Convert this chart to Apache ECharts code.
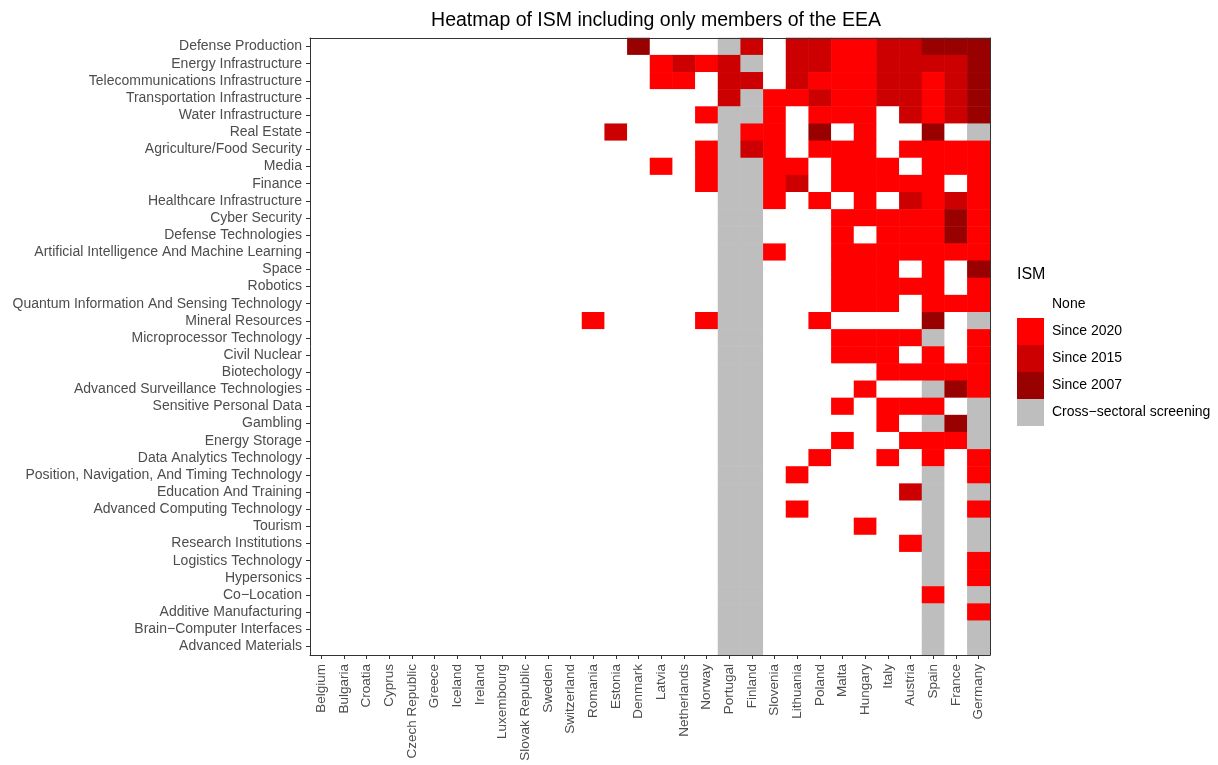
<!DOCTYPE html>
<html>
<head>
<meta charset="utf-8">
<title>Heatmap of ISM</title>
<script src="https://cdn.jsdelivr.net/npm/echarts@6/dist/echarts.min.js"></script>
<style>
  html, body { margin: 0; padding: 0; background: #fff; }
  #chart { width: 1218px; height: 765px; }
</style>
</head>
<body>
<div id="chart"></div>
<script>
// countries along x
const countries = ['Belgium', 'Bulgaria', 'Croatia', 'Cyprus', 'Czech Republic', 'Greece', 'Iceland',
  'Ireland', 'Luxembourg', 'Slovak Republic', 'Sweden', 'Switzerland', 'Romania', 'Estonia', 'Denmark',
  'Latvia', 'Netherlands', 'Norway', 'Portugal', 'Finland', 'Slovenia', 'Lithuania', 'Poland', 'Malta',
  'Hungary', 'Italy', 'Austria', 'Spain', 'France', 'Germany']

// sectors, top to bottom
const sectors = ['Defense Production', 'Energy Infrastructure', 'Telecommunications Infrastructure',
  'Transportation Infrastructure', 'Water Infrastructure', 'Real Estate', 'Agriculture/Food Security',
  'Media', 'Finance', 'Healthcare Infrastructure', 'Cyber Security', 'Defense Technologies',
  'Artificial Intelligence And Machine Learning', 'Space', 'Robotics',
  'Quantum Information And Sensing Technology', 'Mineral Resources', 'Microprocessor Technology',
  'Civil Nuclear', 'Biotechology', 'Advanced Surveillance Technologies', 'Sensitive Personal Data',
  'Gambling', 'Energy Storage', 'Data Analytics Technology',
  'Position, Navigation, And Timing Technology', 'Education And Training',
  'Advanced Computing Technology', 'Tourism', 'Research Institutions', 'Logistics Technology',
  'Hypersonics', 'Co\u2212Location', 'Additive Manufacturing', 'Brain\u2212Computer Interfaces',
  'Advanced Materials']

// 0 none, 1 since 2020, 2 since 2015, 3 since 2007, 4 cross-sectoral
const levelLabels = ['None', 'Since 2020', 'Since 2015', 'Since 2007', 'Cross\u2212sectoral screening']
const levelColors = ['#FFFFFF', '#FF0000', '#CC0000', '#990000', '#BEBEBE']

// one row per sector, one value per country (same order as countries)
const ism = [
  [0,0,0,0,0,0,0,0,0,0,0,0, 0,0,3,0,0,0,4,2,0,2,2,1,1,2,2,3,3,3],
  [0,0,0,0,0,0,0,0,0,0,0,0, 0,0,0,1,2,1,2,4,0,2,2,1,1,2,2,2,2,3],
  [0,0,0,0,0,0,0,0,0,0,0,0, 0,0,0,1,1,0,2,2,0,2,1,1,1,2,2,1,2,3],
  [0,0,0,0,0,0,0,0,0,0,0,0, 0,0,0,0,0,0,2,4,1,1,2,1,1,2,2,1,2,3],
  [0,0,0,0,0,0,0,0,0,0,0,0, 0,0,0,0,0,1,4,4,1,0,1,1,1,0,2,1,2,3],
  [0,0,0,0,0,0,0,0,0,0,0,0, 0,2,0,0,0,0,4,1,1,0,3,0,1,0,0,3,0,4],
  [0,0,0,0,0,0,0,0,0,0,0,0, 0,0,0,0,0,1,4,2,1,0,1,1,1,0,1,1,1,1],
  [0,0,0,0,0,0,0,0,0,0,0,0, 0,0,0,1,0,1,4,4,1,1,0,1,1,1,0,1,1,1],
  [0,0,0,0,0,0,0,0,0,0,0,0, 0,0,0,0,0,1,4,4,1,2,0,1,1,1,1,1,0,1],
  [0,0,0,0,0,0,0,0,0,0,0,0, 0,0,0,0,0,0,4,4,1,0,1,0,1,0,2,1,2,1],
  [0,0,0,0,0,0,0,0,0,0,0,0, 0,0,0,0,0,0,4,4,0,0,0,1,1,1,1,1,3,1],
  [0,0,0,0,0,0,0,0,0,0,0,0, 0,0,0,0,0,0,4,4,0,0,0,1,0,1,1,1,3,1],
  [0,0,0,0,0,0,0,0,0,0,0,0, 0,0,0,0,0,0,4,4,1,0,0,1,1,1,1,1,1,1],
  [0,0,0,0,0,0,0,0,0,0,0,0, 0,0,0,0,0,0,4,4,0,0,0,1,1,1,0,1,0,3],
  [0,0,0,0,0,0,0,0,0,0,0,0, 0,0,0,0,0,0,4,4,0,0,0,1,1,1,1,1,0,1],
  [0,0,0,0,0,0,0,0,0,0,0,0, 0,0,0,0,0,0,4,4,0,0,0,1,1,1,0,1,1,1],
  [0,0,0,0,0,0,0,0,0,0,0,0, 1,0,0,0,0,1,4,4,0,0,1,0,0,0,0,3,0,4],
  [0,0,0,0,0,0,0,0,0,0,0,0, 0,0,0,0,0,0,4,4,0,0,0,1,1,1,1,4,0,1],
  [0,0,0,0,0,0,0,0,0,0,0,0, 0,0,0,0,0,0,4,4,0,0,0,1,1,1,0,1,0,1],
  [0,0,0,0,0,0,0,0,0,0,0,0, 0,0,0,0,0,0,4,4,0,0,0,0,0,1,1,1,1,1],
  [0,0,0,0,0,0,0,0,0,0,0,0, 0,0,0,0,0,0,4,4,0,0,0,0,1,0,0,4,3,1],
  [0,0,0,0,0,0,0,0,0,0,0,0, 0,0,0,0,0,0,4,4,0,0,0,1,0,1,1,1,0,4],
  [0,0,0,0,0,0,0,0,0,0,0,0, 0,0,0,0,0,0,4,4,0,0,0,0,0,1,0,4,3,4],
  [0,0,0,0,0,0,0,0,0,0,0,0, 0,0,0,0,0,0,4,4,0,0,0,1,0,0,1,1,1,4],
  [0,0,0,0,0,0,0,0,0,0,0,0, 0,0,0,0,0,0,4,4,0,0,1,0,0,1,0,1,0,1],
  [0,0,0,0,0,0,0,0,0,0,0,0, 0,0,0,0,0,0,4,4,0,1,0,0,0,0,0,4,0,1],
  [0,0,0,0,0,0,0,0,0,0,0,0, 0,0,0,0,0,0,4,4,0,0,0,0,0,0,2,4,0,4],
  [0,0,0,0,0,0,0,0,0,0,0,0, 0,0,0,0,0,0,4,4,0,1,0,0,0,0,0,4,0,1],
  [0,0,0,0,0,0,0,0,0,0,0,0, 0,0,0,0,0,0,4,4,0,0,0,0,1,0,0,4,0,4],
  [0,0,0,0,0,0,0,0,0,0,0,0, 0,0,0,0,0,0,4,4,0,0,0,0,0,0,1,4,0,4],
  [0,0,0,0,0,0,0,0,0,0,0,0, 0,0,0,0,0,0,4,4,0,0,0,0,0,0,0,4,0,1],
  [0,0,0,0,0,0,0,0,0,0,0,0, 0,0,0,0,0,0,4,4,0,0,0,0,0,0,0,4,0,1],
  [0,0,0,0,0,0,0,0,0,0,0,0, 0,0,0,0,0,0,4,4,0,0,0,0,0,0,0,1,0,4],
  [0,0,0,0,0,0,0,0,0,0,0,0, 0,0,0,0,0,0,4,4,0,0,0,0,0,0,0,4,0,1],
  [0,0,0,0,0,0,0,0,0,0,0,0, 0,0,0,0,0,0,4,4,0,0,0,0,0,0,0,4,0,4],
  [0,0,0,0,0,0,0,0,0,0,0,0, 0,0,0,0,0,0,4,4,0,0,0,0,0,0,0,4,0,4]
]

const cells = []
ism.forEach((row, y) => {
  row.forEach((v, x) => {
    cells.push([x, y, v])
  })
})

const font = '"Liberation Sans", Arial, Helvetica, sans-serif'
const frameLine = { show: true, lineStyle: { color: '#333', width: 1 } }
const chart = echarts.init(document.getElementById('chart'))

chart.setOption({
  animation: false,
  textStyle: { fontFamily: font },
  title: [
    {
      text: 'Heatmap of ISM including only members of the EEA',
      left: 651,
      top: 6,
      textAlign: 'center',
      textStyle: { fontFamily: font, fontSize: 19.5, fontWeight: 'normal', color: '#000' }
    },
    {
      text: 'ISM',
      left: 1012,
      top: 262,
      textStyle: { fontFamily: font, fontSize: 16, fontWeight: 'normal', color: '#000' }
    }
  ],
  grid: {
    left: 310,
    right: 228,
    top: 38,
    bottom: 110,
    show: true,
    borderWidth: 0,
    backgroundColor: '#fff'
  },
  xAxis: [
    {
      type: 'category',
      data: countries,
      z: 10,
      axisLine: frameLine,
      axisTick: { show: true, alignWithLabel: true, length: 4, lineStyle: { color: '#333' } },
      axisLabel: {
        rotate: 90,
        interval: 0,
        margin: 9,
        fontSize: 13.5,
        color: '#4D4D4D',
        fontFamily: font
      },
      splitLine: { show: false }
    },
    {
      // top edge of the panel frame
      type: 'category',
      data: countries,
      position: 'top',
      z: 10,
      axisLine: frameLine,
      axisTick: { show: false },
      axisLabel: { show: false },
      splitLine: { show: false }
    }
  ],
  yAxis: [
    {
      type: 'category',
      data: sectors,
      inverse: true,
      z: 10,
      axisLine: frameLine,
      axisTick: { show: true, alignWithLabel: true, length: 4, lineStyle: { color: '#333' } },
      axisLabel: {
        interval: 0,
        margin: 8,
        fontSize: 14,
        color: '#4D4D4D',
        fontFamily: font
      },
      splitLine: { show: false }
    },
    {
      // right edge of the panel frame
      type: 'category',
      data: sectors,
      inverse: true,
      position: 'right',
      z: 10,
      axisLine: frameLine,
      axisTick: { show: false },
      axisLabel: { show: false },
      splitLine: { show: false }
    }
  ],
  visualMap: {
    type: 'piecewise',
    dimension: 2,
    seriesIndex: 0,
    inverse: true,
    left: 1017,
    top: 291,
    padding: 0,
    align: 'left',
    itemWidth: 27,
    itemHeight: 27,
    itemGap: 0,
    itemSymbol: 'rect',
    textGap: 8,
    selectedMode: false,
    textStyle: { fontFamily: font, fontSize: 14, color: '#000' },
    pieces: levelLabels.map((label, i) => ({ value: i, label: label, color: levelColors[i] }))
  },
  series: [
    {
      type: 'heatmap',
      xAxisIndex: 0,
      yAxisIndex: 0,
      data: cells,
      itemStyle: { borderWidth: 0 },
      emphasis: { disabled: true }
    }
  ]
})
</script>
</body>
</html>
